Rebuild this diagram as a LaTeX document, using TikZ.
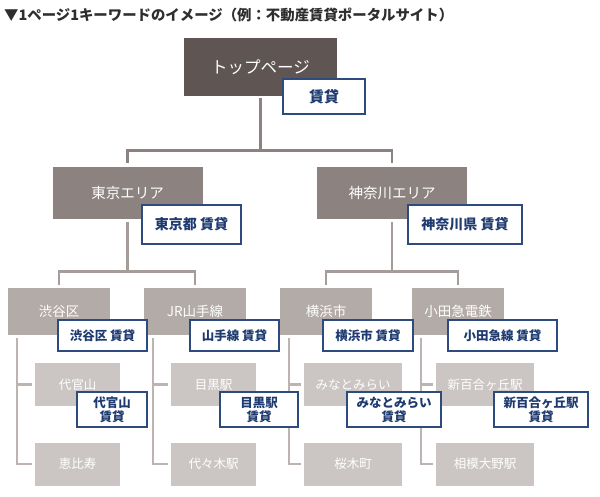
\documentclass[tikz,border=0pt]{standalone}
\usepackage{fontspec}
\setmainfont{Noto Sans CJK JP}
\usetikzlibrary{positioning,calc}
\definecolor{topbg}{HTML}{5F5653}
\definecolor{areabg}{HTML}{8C8380}
\definecolor{citybg}{HTML}{B2ABA7}
\definecolor{spotbg}{HTML}{CBC6C3}
\definecolor{spotline}{HTML}{BBB4B0}
\definecolor{kwline}{HTML}{2D4B7E}
\definecolor{kwtext}{HTML}{1E3A70}
\definecolor{titlegray}{HTML}{2E2E2E}

\newcommand{\fsz}[1]{\fontsize{#1}{#1}\selectfont}

\begin{document}
\begin{tikzpicture}[
  x=1pt, y=-1pt,
  page/.style={rectangle, inner sep=0pt, text=white},
  toppage/.style={page, fill=topbg, minimum width=153pt, minimum height=58pt, font=\fsz{16.5}},
  areapage/.style={page, fill=areabg, minimum width=150pt, minimum height=52pt, font=\fsz{14.5}},
  citypage/.style={page, fill=citybg, minimum height=47pt, font=\fsz{13.5}},
  spotpage/.style={page, fill=spotbg, minimum height=43pt, font=\fsz{12.5}},
  kw/.style={rectangle, draw=kwline, line width=1.2pt, fill=white, inner sep=0pt, align=center, text=kwtext, font=\bfseries\fsz{12.5}, execute at begin node=\setlength{\baselineskip}{14pt}},
  link/.style={line width=2.6pt},
  link1/.style={link, draw=areabg},
  link2/.style={link, draw=citybg!92!black},
  link3/.style={link, draw=spotline}
]
  \useasboundingbox (0,0) rectangle (600,496);

  \node[anchor=west, inner sep=0pt, text=titlegray, font=\bfseries\fsz{14.4}] (title) at (4,14.5) {▼1ページ1キーワードのイメージ（例：不動産賃貸ポータルサイト）};

  % pages
  \node[toppage] (top) at (260.5,67) {トップページ};

  \node[areapage] (tokyo) at (127.5,193) {東京エリア};
  \node[areapage] (kanagawa) at (392,193) {神奈川エリア};

  \node[citypage, minimum width=102pt] (shibuya) at (59,311.5) {渋谷区};
  \node[citypage, minimum width=102pt] (yamanote) at (195,311.5) {JR山手線};
  \node[citypage, minimum width=92pt] (yokohama) at (326,311.5) {横浜市};
  \node[citypage, minimum width=92pt] (odakyu) at (458,311.5) {小田急電鉄};

  \node[spotpage, minimum width=85pt] (daikanyama) at (77.5,384.5) {代官山};
  \node[spotpage, minimum width=85pt] (ebisu) at (77.5,464) {恵比寿};
  \node[spotpage, minimum width=85pt] (meguro) at (213.5,384.5) {目黒駅};
  \node[spotpage, minimum width=85pt] (yoyogi) at (213.5,464) {代々木駅};
  \node[spotpage, minimum width=98pt] (minato) at (353,384.5) {みなとみらい};
  \node[spotpage, minimum width=98pt] (sakuragi) at (353,464) {桜木町};
  \node[spotpage, minimum width=98pt] (shinyuri) at (485,384.5) {新百合ヶ丘駅};
  \node[spotpage, minimum width=98pt] (sagami) at (485,464) {相模大野駅};

  % connectors
  \path (top.south) ++(0,54) coordinate (bus0);
  \path (tokyo.south) ++(0,52) coordinate (bus1);
  \path (kanagawa.south) ++(0,52) coordinate (bus2);

  \draw[link1] ([yshift=-2pt]top.south) -- (bus0) -| ([yshift=4pt]tokyo.north);
  \draw[link1] (bus0) -| ([yshift=4pt]kanagawa.north);

  \draw[link2] ([yshift=-3pt]tokyo.south) -- (bus1) -| ([yshift=3pt]shibuya.north);
  \draw[link2] (bus1) -| ([yshift=3pt]yamanote.north);
  \draw[link2] ([yshift=-3pt]kanagawa.south) -- (bus2) -| ([yshift=3pt]yokohama.north);
  \draw[link2] (bus2) -| ([yshift=3pt]odakyu.north);

  \foreach \city/\upper/\lower in {shibuya/daikanyama/ebisu, yamanote/meguro/yoyogi, yokohama/minato/sakuragi, odakyu/shinyuri/sagami} {
    \draw[link3] ([xshift=9pt,yshift=-3pt]\city.south west) |- ([xshift=-3pt]\lower.west);
    \draw[link3] ([xshift=9pt,yshift=-3pt]\city.south west) |- ([xshift=-3pt]\upper.west);
  }

  % keywords
  \node[kw, minimum width=82pt, minimum height=35pt, font=\bfseries\fsz{15}] (kwtop) at (324,96.5) {賃貸};

  \node[kw, minimum width=99pt, minimum height=39pt, font=\bfseries\fsz{14}] (kwtokyo) at (191.5,224.5) {東京都 賃貸};
  \node[kw, minimum width=114pt, minimum height=39pt, font=\bfseries\fsz{14}] (kwkanagawa) at (465,224.5) {神奈川県 賃貸};

  \node[kw, minimum width=89pt, minimum height=31pt] (kwshibuya) at (102.5,335.5) {渋谷区 賃貸};
  \node[kw, minimum width=89pt, minimum height=31pt] (kwyamanote) at (234.5,335.5) {山手線 賃貸};
  \node[kw, minimum width=90pt, minimum height=31pt] (kwyokohama) at (368,335.5) {横浜市 賃貸};
  \node[kw, minimum width=109pt, minimum height=31pt] (kwodakyu) at (502.5,335.5) {小田急線 賃貸};

  \node[kw, minimum width=70pt, minimum height=35pt] (kwdaikanyama) at (112,409.5) {代官山\\賃貸};
  \node[kw, minimum width=78pt, minimum height=35pt] (kwmeguro) at (259,409.5) {目黒駅\\賃貸};
  \node[kw, minimum width=94pt, minimum height=35pt] (kwminato) at (394,409.5) {みなとみらい\\賃貸};
  \node[kw, minimum width=94pt, minimum height=35pt] (kwshinyuri) at (541,409.5) {新百合ヶ丘駅\\賃貸};
\end{tikzpicture}
\end{document}
